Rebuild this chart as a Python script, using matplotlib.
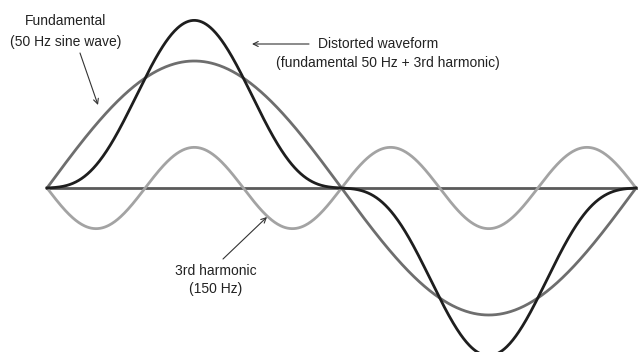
import numpy as np
import matplotlib.pyplot as plt

plt.rcParams['font.family'] = ['Liberation Sans', 'DejaVu Sans']

# waveform parameters (one period of the 50 Hz fundamental)
freqs = [50, 150]          # Hz
amps = [1.0, -0.32]        # fundamental, 3rd harmonic (drawn inverted)
labels = ["Fundamental", "(50 Hz sine wave)",
          "Distorted waveform",
          "(fundamental 50 Hz + 3rd harmonic)",
          "3rd harmonic", "(150 Hz)"]

period = 1.0 / freqs[0]
t = np.linspace(0, period, 800)
fund = amps[0] * np.sin(2 * np.pi * freqs[0] * t)
harm = amps[1] * np.sin(2 * np.pi * freqs[1] * t)
dist = fund + harm

W, H = 639, 352
fig = plt.figure(figsize=(W / 100, H / 100), dpi=100)
ax = fig.add_axes([0, 0, 1, 1])

# pixel mapping: t=0 at x=47, t=period at x=636, zero at y=188, 1.0 = 127 px
x0, x1, y0, unit = 47, 636, 188, 127
sx = period / (x1 - x0)
ax.set_xlim(-x0 * sx, period + (W - x1) * sx)
ax.set_ylim(-(H - y0) / unit, y0 / unit)
ax.axis('off')

def px(x, y):
    return ((x - x0) * sx, (y0 - y) / unit)

ax.plot([0, period], [0, 0], color='#5a5a5a', lw=2.0, zorder=1)
ax.plot(t, harm, color='#a3a3a3', lw=2.0, zorder=2)
ax.plot(t, fund, color='#6e6e6e', lw=2.0, zorder=3)
ax.plot(t, dist, color='#1e1e1e', lw=2.0, zorder=4)

fs = 10
tc = '#222222'
ax.text(*px(66, 21), labels[0], ha='center', va='center', fontsize=fs, color=tc)
ax.text(*px(66, 42), labels[1], ha='center', va='center', fontsize=fs, color=tc)
ax.text(*px(318, 44), labels[2], ha='left', va='center', fontsize=fs, color=tc)
ax.text(*px(388, 63), labels[3], ha='center', va='center', fontsize=fs, color=tc)
ax.text(*px(216, 271), labels[4], ha='center', va='center', fontsize=fs, color=tc)
ax.text(*px(216, 289), labels[5], ha='center', va='center', fontsize=fs, color=tc)

arrow = dict(arrowstyle='->', color='#333333', lw=0.8, shrinkA=0, shrinkB=0,
             mutation_scale=9)
ax.annotate('', xy=px(98, 105), xytext=px(80, 53), arrowprops=arrow)
ax.annotate('', xy=px(252, 44), xytext=px(309, 44), arrowprops=arrow)
ax.annotate('', xy=px(267, 217), xytext=px(223, 259), arrowprops=arrow)

fig.savefig('out.png', dpi=100)
